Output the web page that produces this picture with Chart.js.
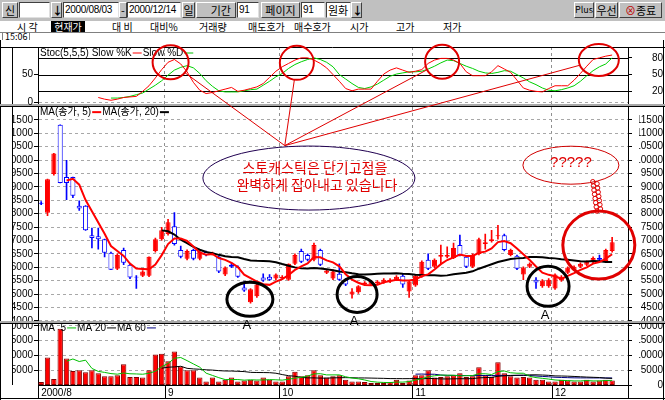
<!DOCTYPE html>
<html>
<head>
<meta charset="utf-8">
<title>Stochastic</title>
<script src="https://cdn.jsdelivr.net/npm/chart.js@4.4.1/dist/chart.umd.min.js"></script>
<style>
  body { margin: 0; width: 665px; height: 400px; overflow: hidden; background: #fff; position: relative;
         font-family: "Noto Sans CJK KR", "Liberation Sans", sans-serif; font-size: 11px; }
  #tool { position: absolute; left: 0; top: 0; width: 665px; height: 21px; background: #c0c0c0; }
  .b, .i { position: absolute; top: 2px; height: 16px; line-height: 14px; box-sizing: border-box; font-size: 11px; white-space: nowrap; overflow: hidden; }
  .b { background: #c0c0c0; border: 1px solid; border-color: #fff #404040 #404040 #fff; text-align: center; }
  .i { background: #fff; border: 1px solid; border-color: #404040 #e0e0e0 #e0e0e0 #404040; padding-left: 1px; }
  .d { font-family: "Liberation Sans", sans-serif; font-size: 10px; letter-spacing: -0.3px; }
  #tabs { position: absolute; left: 0; top: 21px; width: 665px; height: 11px; background: #fff; border-bottom: 1px solid #808080; }
  #tabs span { position: absolute; top: 0; font-size: 10px; line-height: 11px; }
  #clock { position: absolute; left: 2px; top: 32px; font-size: 9px; line-height: 8px; border: 1px solid #808080; padding: 0 2px; }
  canvas { position: absolute; left: 0; top: 40px; }
</style>
</head>
<body>
<div id="tool">
  <div class="b" style="left:2px;width:16px">신</div>
  <div class="i" style="left:19px;width:31px"></div>
  <div class="b" style="left:51px;width:11px;font-weight:bold">↓</div>
  <div class="i d" style="left:63px;width:56px">2000/08/03</div>
  <div class="b" style="left:119px;width:8px">-</div>
  <div class="i d" style="left:127px;width:54px">2000/12/14</div>
  <div class="b" style="left:182px;width:13px">일</div>
  <div class="b" style="left:196px;width:40px;text-align:right;padding-right:4px">기간</div>
  <div class="i d" style="left:237px;width:22px">91</div>
  <div class="b" style="left:261px;width:39px">페이지</div>
  <div class="i d" style="left:301px;width:24px">91</div>
  <div class="i" style="left:326px;width:25px">원화</div>
  <div class="b" style="left:351px;width:11px;font-weight:bold">↓</div>
  <div class="b" style="left:574px;width:20px;font-size:9px">Plus</div>
  <div class="b" style="left:595px;width:23px">우선</div>
  <div class="b" style="left:619px;width:43px"><span style="color:#c00000">⊗</span>종료</div>
</div>
<div id="tabs">
  <span style="left:17px">시 각</span>
  <span style="left:51px;width:34px;background:#000;color:#fff;text-align:center">현재가</span>
  <span style="left:112px">대 비</span>
  <span style="left:150px">대비%</span>
  <span style="left:199px">거래량</span>
  <span style="left:248px">매도호가</span>
  <span style="left:294px">매수호가</span>
  <span style="left:350px">시가</span>
  <span style="left:396px">고가</span>
  <span style="left:443px">저가</span>
</div>
<div id="clock">15:06</div>
<canvas id="grafico" width="665" height="360"></canvas>
<script>
// trading days 2000/08/03 - 2000/12/14
const dates = [
  '08/03','08/04','08/07','08/08','08/09','08/10','08/11','08/14','08/16','08/17',
  '08/18','08/21','08/22','08/23','08/24','08/25','08/28','08/29','08/30','08/31',
  '09/01','09/04','09/05','09/06','09/07','09/08','09/14','09/15','09/18','09/19',
  '09/20','09/21','09/22','09/25','09/26','09/27','09/28','09/29',
  '10/02','10/04','10/05','10/06','10/09','10/10','10/11','10/12','10/13','10/16',
  '10/17','10/18','10/19','10/20','10/23','10/24','10/25','10/26','10/27','10/30','10/31',
  '11/01','11/02','11/03','11/06','11/07','11/08','11/09','11/10','11/13','11/14',
  '11/15','11/16','11/17','11/20','11/21','11/22','11/23','11/24','11/27','11/28','11/29','11/30',
  '12/01','12/04','12/05','12/06','12/07','12/08','12/11','12/12','12/13','12/14'
];

const open = [8410,8040,9480,11320,9370,9370,8300,8300,7200,7160,
  7050,6540,5950,6650,6100,5650,5690,5690,6610,7050,
  7240,7530,6650,6320,6650,6320,6570,6500,6390,5730,
  6100,6020,5250,4700,4920,5620,5650,5580,5580,5540,
  6130,6610,6460,6280,6650,5800,5580,5760,5540,4990,
  5070,5360,5360,5400,5430,5470,5540,5690,5100,5320,
  5650,6280,6020,6390,6390,6350,6830,6390,6020,6500,
  6870,6980,7160,7200,6460,6430,5730,6020,5540,5290,
  5290,5210,5510,5800,5910,6020,6100,6210,6350,6240,6610];
const high = [8450,9290,10250,11320,9990,9370,8480,8300,7460,7460,
  7050,6570,6500,6720,6130,5690,5880,6390,7090,7490,
  7790,8040,6790,6650,6680,6610,6610,6570,6430,6020,
  6170,6060,5470,5210,5400,5760,5730,5760,5690,6130,
  6500,6680,6500,6900,6680,5910,5910,6130,5580,5210,
  5320,5470,5510,5510,5580,5580,5690,5760,5510,5730,
  6240,6500,6320,6830,6760,6900,7200,6430,6500,7090,
  7240,7380,7570,7240,6680,6460,6020,6170,5620,5540,
  5580,5760,5690,6020,6060,6170,6240,6390,6460,6680,7120];
const low = [8340,7930,9440,9150,8520,8600,8120,7380,6720,6680,
  6390,5910,5910,6100,5580,5210,5650,5650,6570,7010,
  7200,6830,6350,6280,6280,6280,6430,6460,5800,5690,
  5990,5620,5100,4660,4880,5470,5510,5540,5540,5510,
  6100,6170,6240,6240,6060,5760,5540,5510,5320,4850,
  5030,5320,5320,5360,5400,5430,5510,5250,4880,5290,
  5620,5910,5990,6130,6350,6320,6430,5990,5990,6460,
  6680,6940,7050,6610,6430,5910,5540,5990,5210,5250,
  5250,5180,5470,5760,5880,5990,6060,6170,6240,6210,6570];
const close = [8370,9290,10250,9150,9150,8670,8190,7380,7090,7050,
  6540,5910,6460,6170,5620,5620,5840,6390,7050,7380,
  7680,6870,6390,6610,6320,6570,6460,6540,5840,5990,
  6020,5650,5140,5180,5360,5510,5540,5730,5650,6130,
  6460,6210,6280,6830,6100,5880,5840,5540,5360,5100,
  5290,5430,5470,5470,5540,5540,5650,5360,5470,5690,
  6210,5950,6280,6460,6460,6720,6460,6020,6460,7050,
  6940,7050,7200,6650,6650,5950,5990,6130,5430,5510,
  5540,5730,5650,5990,6020,6130,6210,6350,6280,6650,6940];
const volume = [1000,9300,2000,19000,9000,4700,5000,4300,5000,4000,
  3000,3000,3300,7000,2700,2700,2500,5000,10300,10600,
  8000,11300,6300,5000,5000,2500,1200,2500,1200,1800,
  2500,1200,1500,1800,1500,2500,1800,1200,1200,3000,
  4500,3000,3300,5000,3300,2500,3000,3300,1800,1200,
  1200,1000,700,700,700,1000,1800,700,1500,3300,
  3300,5000,2500,2700,3000,3300,4000,2700,3000,6000,
  3300,2700,7700,4000,3000,2500,2700,2500,1800,1800,
  1200,1200,1800,1500,1200,1200,1800,1200,1500,1800,1500];

// Stoch(5,5,5)
const slowK = [null,null,null,null,null,null,null,null,null,
  9,6,4,6,9,10,11,20,30,44,
  59,72,77,69,55,36,22,16,18,21,
  24,27,20,22,25,28,34,45,56,64,
  70,76,80,80,76,70,62,50,38,25,
  21,24,24,24,38,51,58,62,58,54,
  56,59,70,76,79,79,76,70,55,48,
  48,48,55,66,60,54,40,26,22,20,
  19,25,30,30,30,40,52,65,77,80,
  83,85];
const slowD = [null,null,null,null,null,null,null,null,null,null,null,
  8,8,9,11,14,17,24,31,39,49,
  58,63,66,62,52,39,29,21,19,19,
  19,21,23,24,31,38,46,52,61,68,
  73,77,80,77,72,64,50,42,34,27,
  25,28,33,40,47,51,53,55,55,56,
  60,65,71,76,75,70,65,61,56,53,
  52,54,57,56,50,44,37,32,26,22,
  21,23,26,30,38,48,57,64,69,80];

const priceTicks = [4000,4500,5000,5500,6000,6500,7000,7500,8000,8500,9000,9500,10000,10500,11000,11500];
const stochTicksLeft = [0, 50];
const stochTicksRight = [20, 50, 80];
const stochLevels = [20, 50, 80];
const volTicksLeft = [5000, 10000, 15000, 20000];
const volTicksRight = [0, 5000, 10000, 15000, 20000];
const monthDates = ['08/03', '09/01', '10/02', '11/01', '12/01'];
const monthLabels = ['2000/8', '9', '10', '11', '12'];

// hand drawn notes on the screenshot, anchored at [day index, value]
const notes = {
  peaks: [[20.4, 72, 18, 17], [40.3, 71, 17, 17], [63.2, 73, 17, 17], [87.9, 76, 20, 16]],
  focus: [38.4, 10540],
  bubble: { at: [42.2, 9330], rx: 106, ry: 32, lines: ['스토캐스틱은 단기고점을', '완벽하게 잡아내고 있습니다'] },
  question: { at: [83.5, 9810], rx: 48, ry: 19, text: '?????' },
  target: { at: [87.9, 6830], rx: 36, ry: 34 },
  lows: [[32.9, 4810, 23, 17], [49.8, 4990, 20, 18], [79.9, 5290, 21, 20]]
};

function movingAverage(values, n) {
  return values.map((v, i) => {
    if (i < n - 1) return null;
    let sum = 0;
    for (let k = i - n + 1; k <= i; k++) sum += values[k];
    return sum / n;
  });
}

const slots = dates.concat(['', '']);
const up = close.map((c, i) => c >= open[i]);
const bodies = open.map((o, i) => [o, close[i]]);
const wicks = low.map((l, i) => [l, high[i]]);
const edge = up.map(u => u ? '#ff0000' : '#0000ff');
const fill = up.map(u => u ? '#ff0000' : '#ffffff');

Chart.defaults.font.family = '"Liberation Sans", "Noto Sans CJK KR", sans-serif';
Chart.defaults.font.size = 10;
Chart.defaults.color = '#000';

function line(ctx, x1, y1, x2, y2) {
  ctx.beginPath(); ctx.moveTo(x1, y1); ctx.lineTo(x2, y2); ctx.stroke();
}
function oval(ctx, cx, cy, rx, ry, color, width) {
  ctx.strokeStyle = color; ctx.lineWidth = width;
  ctx.beginPath(); ctx.ellipse(cx, cy, rx, ry, 0, 0, Math.PI * 2); ctx.stroke();
}
function legend(ctx, x, y, items) {
  items.forEach(([text, color, w]) => {
    ctx.fillStyle = '#000';
    ctx.fillText(text, x, y);
    x += ctx.measureText(text).width + 1;
    ctx.strokeStyle = color; ctx.lineWidth = w;
    line(ctx, x, y, x + 9, y);
    x += 10;
  });
}

const panels = {
  id: 'panels',
  beforeDraw(chart) {
    const ctx = chart.ctx;
    ctx.save();
    ctx.fillStyle = '#fff';
    ctx.fillRect(0, 0, chart.width, chart.height);
    ctx.restore();
  },
  beforeDatasetsDraw(chart) {
    const { ctx, chartArea: a, scales: s } = chart;
    ctx.save();
    ctx.strokeStyle = '#000';
    ctx.lineWidth = 1;
    stochLevels.forEach(v => {
      const y = Math.round(s.yS.getPixelForValue(v)) + 0.5;
      line(ctx, a.left, y, a.right, y);
    });
    ctx.restore();
  },
  afterDraw(chart) {
    const { ctx, chartArea: a, scales: s, width: W, height: H } = chart;
    ctx.save();
    // the terminal cuts the front of long axis labels
    ctx.fillStyle = '#fff';
    ctx.fillRect(0, 0, 13, H);
    ctx.fillRect(634, 0, 5, a.bottom);

    ctx.strokeStyle = '#000';
    ctx.lineWidth = 1;
    line(ctx, 0.5, 0, 0.5, H);
    line(ctx, 12.5, a.top, 12.5, a.bottom);
    line(ctx, W - 1.5, 0, W - 1.5, H);
    line(ctx, 0, a.top + 0.5, W, a.top + 0.5);
    [s.yS.bottom, s.yP.bottom].forEach(y => {
      y = Math.round(y);
      ctx.fillStyle = '#a8a8a8';
      ctx.fillRect(0, y - 1, W, 2);
      ctx.fillStyle = '#000';
      ctx.fillRect(0, y + 1, W, 1);
    });
    // date band
    ctx.strokeRect(a.left + 0.5, a.bottom + 0.5, a.right - a.left, 13);
    line(ctx, 0, H - 1.5, W, H - 1.5);
    monthDates.forEach(d => {
      const i = dates.indexOf(d);
      const x = Math.round((s.x.getPixelForValue(i) + s.x.getPixelForValue(i - 1)) / 2) + 0.5;
      line(ctx, x, a.bottom, x, a.bottom + 13);
    });

    ctx.font = '10px "Liberation Sans", "Noto Sans CJK KR", sans-serif';
    ctx.textBaseline = 'middle';

    // left labels of the stochastic panel, placed by its scale
    ctx.textAlign = 'right';
    ctx.fillStyle = '#000';
    stochTicksLeft.forEach(v => ctx.fillText(String(v), s.yS.right - 5, s.yS.getPixelForValue(v)));

    // panel legends
    ctx.textAlign = 'left';
    legend(ctx, a.left + 2, s.yS.top + 6, [['Stoc(5,5,5) Slow %K', '#ff0000', 1], ['Slow %D', '#00c000', 1]]);
    legend(ctx, a.left + 2, s.yP.top + 7, [['MA(종가, 5)', '#ff0000', 2], ['MA(종가, 20)', '#000000', 2]]);
    legend(ctx, a.left + 2, s.yV.top + 6, [['MA  5', '#00c000', 1], ['MA 20', '#000000', 1], ['MA 60', '#000080', 1]]);

    // notes
    const X = i => s.x.getPixelForValue(i);
    const fx = X(notes.focus[0]), fy = s.yP.getPixelForValue(notes.focus[1]);
    notes.peaks.forEach(([i, v, rx, ry]) => {
      const cx = X(i), cy = s.yS.getPixelForValue(v);
      oval(ctx, cx, cy, rx, ry, '#e00000', 2);
      const t = Math.atan2((fy - cy) / ry, (fx - cx) / rx);
      ctx.lineWidth = 1;
      line(ctx, cx + rx * Math.cos(t), cy + ry * Math.sin(t), fx, fy);
    });

    const b = notes.bubble;
    const bx = X(b.at[0]), by = s.yP.getPixelForValue(b.at[1]);
    oval(ctx, bx, by, b.rx, b.ry, '#200050', 1);
    ctx.fillStyle = '#e00000';
    ctx.textAlign = 'center';
    ctx.font = '14px "Noto Sans CJK KR", sans-serif';
    ctx.fillText(b.lines[0], bx + 6, by - 10);
    ctx.fillText(b.lines[1], bx + 8, by + 7);

    const q = notes.question;
    const qx = X(q.at[0]), qy = s.yP.getPixelForValue(q.at[1]);
    oval(ctx, qx, qy, q.rx, q.ry, '#d00000', 1);
    ctx.fillStyle = '#e00000';
    ctx.font = '15px "Liberation Sans", sans-serif';
    ctx.fillText(q.text, qx, qy - 2);

    const g = notes.target;
    const gx = X(g.at[0]), gy = s.yP.getPixelForValue(g.at[1]);
    oval(ctx, gx, gy, g.rx, g.ry, '#e00000', 3);

    // scribble from the question bubble down to the circle
    const sx = qx + q.rx * Math.cos(1.05), sy = qy + q.ry * Math.sin(1.05);
    const ex = gx, ey = gy - g.ry;
    ctx.strokeStyle = '#e00000';
    ctx.lineWidth = 1;
    for (let k = 0; k <= 14; k++) {
      const t = k / 14;
      const px = sx + (ex - sx) * t + (k % 2 ? 2 : -2);
      const py = sy + (ey - sy) * t;
      ctx.beginPath(); ctx.arc(px, py, 2.2, 0, Math.PI * 2); ctx.stroke();
    }

    ctx.font = '13px "Liberation Sans", sans-serif';
    ctx.textBaseline = 'top';
    notes.lows.forEach(([i, p, rx, ry]) => {
      const cx = X(i), cy = s.yP.getPixelForValue(p);
      oval(ctx, cx, cy, rx, ry, '#000', 3);
      ctx.fillStyle = '#000';
      ctx.fillText('A', cx - 3, cy + ry + 3);
    });
    ctx.restore();
  }
};

function yAxis(position, weight, stackWeight, min, max, values, gridColor, showLabels = true) {
  return {
    type: 'linear', position, weight, stack: position, stackWeight, min, max,
    afterBuildTicks: sc => { sc.ticks = values.map(v => ({ value: v })); },
    afterFit: sc => { sc.width = position === 'left' ? 38 : 35; },
    border: { display: true, color: '#000', dash: [3, 3] },
    grid: { color: gridColor || '#000', drawOnChartArea: !!gridColor, tickColor: '#000', tickLength: 4 },
    ticks: { display: showLabels, color: '#000', padding: 1, autoSkip: false, crossAlign: position === 'right' ? 'far' : 'near',
             font: { size: 10 }, callback: v => String(v) }
  };
}

const stochGrid = c => (c.tick && c.tick.value === 0) ? '#a8a8a8' : 'rgba(0,0,0,0)';

new Chart(document.getElementById('grafico'), {
  type: 'bar',
  data: {
    labels: slots,
    datasets: [
      { type: 'line', label: 'Slow %K', data: slowK, yAxisID: 'yS', borderColor: '#ff0000', borderWidth: 1, pointRadius: 0, order: 0 },
      { type: 'line', label: 'Slow %D', data: slowD, yAxisID: 'yS', borderColor: '#00d000', borderWidth: 1, pointRadius: 0, order: 0 },
      { type: 'line', label: 'MA5', data: movingAverage(close, 5), yAxisID: 'yP', borderColor: '#ff0000', borderWidth: 2, pointRadius: 0, order: 0 },
      { type: 'line', label: 'MA20', data: movingAverage(close, 20), yAxisID: 'yP', borderColor: '#000000', borderWidth: 2, pointRadius: 0, order: 0 },
      { type: 'bar', label: '몸통', data: bodies, yAxisID: 'yP', backgroundColor: fill, borderColor: edge, borderWidth: 1,
        borderSkipped: false, grouped: false, barPercentage: 0.8, categoryPercentage: 1, order: 2 },
      { type: 'bar', label: '꼬리', data: wicks, yAxisID: 'yP', backgroundColor: edge, barThickness: 1, grouped: false, order: 3 },
      { type: 'bar', label: '거래량', data: volume, yAxisID: 'yV', backgroundColor: '#ff0000', borderColor: '#800000', borderWidth: 1,
        borderSkipped: false, grouped: false, barPercentage: 0.85, categoryPercentage: 1, order: 3 },
      { type: 'line', label: 'MA 5', data: movingAverage(volume, 5), yAxisID: 'yV', borderColor: '#00c000', borderWidth: 1, pointRadius: 0, order: 0 },
      { type: 'line', label: 'MA 20', data: movingAverage(volume, 20), yAxisID: 'yV', borderColor: '#000000', borderWidth: 1, pointRadius: 0, order: 0 },
      { type: 'line', label: 'MA 60', data: movingAverage(volume, 60), yAxisID: 'yV', borderColor: '#000080', borderWidth: 1, pointRadius: 0, order: 0 }
    ]
  },
  options: {
    responsive: false,
    animation: false,
    devicePixelRatio: 1,
    layout: { padding: { top: 2, right: 2, bottom: 2, left: 0 } },
    plugins: { legend: { display: false }, tooltip: { enabled: false } },
    scales: {
      x: {
        offset: true,
        afterFit: sc => { sc.height = 13; },
        border: { display: true, color: '#000', dash: [3, 3] },
        grid: { offset: true, drawTicks: false,
                color: c => monthDates.includes(slots[c.index]) ? '#909090' : 'rgba(0,0,0,0)' },
        ticks: { autoSkip: false, maxRotation: 0, align: 'start', padding: 2, color: '#000', font: { size: 10 },
                 callback: (v, i) => { const k = monthDates.indexOf(slots[i]); return k < 0 ? '' : monthLabels[k]; } }
      },
      yS: yAxis('left', 3, 59, -4.7, 99.4, stochTicksLeft, stochGrid, false),
      yP: yAxis('left', 2, 220, 3963, 12050, priceTicks, '#a8a8a8'),
      yV: yAxis('left', 1, 64, 0, 21333, volTicksLeft, '#a8a8a8'),
      rS: yAxis('right', 1, 59, -4.7, 99.4, stochTicksRight, null),
      rP: yAxis('right', 2, 220, 3963, 12050, priceTicks, null),
      rV: yAxis('right', 3, 64, 0, 21333, volTicksRight, null)
    }
  },
  plugins: [panels]
});
</script>
</body>
</html>
